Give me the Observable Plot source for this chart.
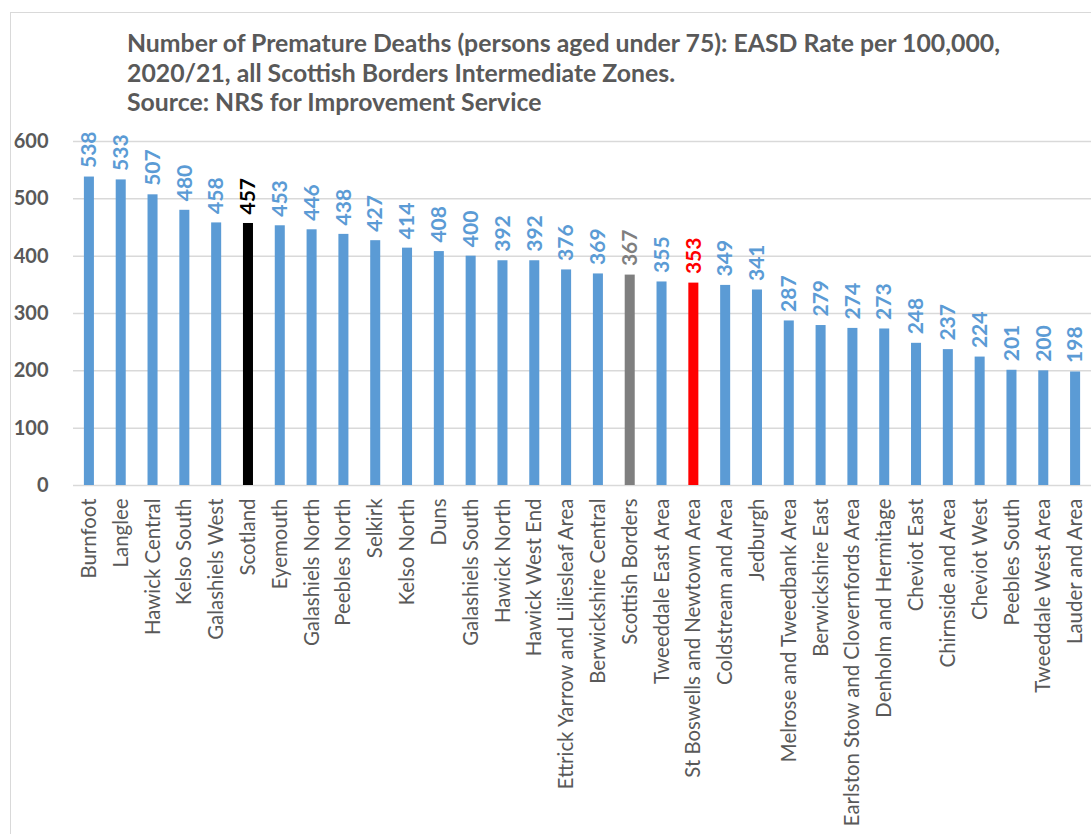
<!DOCTYPE html>
<html><head><meta charset="utf-8">
<script src="https://cdn.jsdelivr.net/npm/d3@7"></script>
<script src="https://cdn.jsdelivr.net/npm/@observablehq/plot@0.6"></script>
<style>
html,body{margin:0;padding:0;background:#fff;}
body{width:1091px;height:834px;overflow:hidden;position:relative;font-family:Lato,"Open Sans",sans-serif;}
#frame{position:absolute;left:10px;top:12px;width:1200px;height:1000px;border:1px solid #d9d9d9;box-sizing:border-box;}
#title{position:absolute;left:127px;top:28px;font-weight:bold;font-size:24.8px;line-height:29.5px;color:#595959;white-space:nowrap;}
#chart{position:absolute;left:0;top:120px;}
</style></head>
<body>
<div id="frame"></div>
<div id="title">Number of Premature Deaths (persons aged under 75): EASD Rate per 100,000,<br>2020/21, all Scottish Borders Intermediate Zones.<br>Source: NRS for Improvement Service</div>
<div id="chart"></div>
<script>
const areas = ["Burnfoot","Langlee","Hawick Central","Kelso South","Galashiels West","Scotland","Eyemouth","Galashiels North","Peebles North","Selkirk","Kelso North","Duns","Galashiels South","Hawick North","Hawick West End","Ettrick Yarrow and Liliesleaf Area","Berwickshire Central","Scottish Borders","Tweeddale East Area","St Boswells and Newtown Area","Coldstream and Area","Jedburgh","Melrose and Tweedbank Area","Berwickshire East","Earlston Stow and Clovernfords Area","Denholm and Hermitage","Cheviot East","Chirnside and Area","Cheviot West","Peebles South","Tweeddale West Area","Lauder and Area"];
const rates = [538,533,507,480,458,457,453,446,438,427,414,408,400,392,392,376,369,367,355,353,349,341,287,279,274,273,248,237,224,201,200,198];
const yTicks = [0,100,200,300,400,500,600];

const highlight = {"Scotland":"#000000","Scottish Borders":"#7f7f7f","St Boswells and Newtown Area":"#ff0000"};
const baseColor = "#5b9bd5";
const data = areas.map((a,i)=>({area:a, value:rates[i]}));
const colorOf = d => highlight[d.area] || baseColor;

const chart = Plot.plot({
  width:1091, height:714,
  marginLeft:73, marginRight:0, marginTop:21, marginBottom:349,
  style:{fontFamily:"Lato, 'Open Sans', sans-serif", background:"transparent", color:"#595959"},
  x:{domain:areas, paddingInner:0.685, paddingOuter:0.3425, round:false, label:null},
  y:{domain:[0,600], label:null},
  color:{type:"identity"},
  marks:[
    Plot.gridY(yTicks,{stroke:"#d9d9d9", strokeOpacity:1, strokeWidth:1.5}),
    Plot.barY(data,{x:"area", y:"value", fill:colorOf}),
    Plot.text(data,{x:"area", y:"value", text:d=>String(d.value), rotate:-90, textAnchor:"start", lineAnchor:"middle", dy:-9, fill:colorOf, fontSize:21, fontWeight:"bold"}),
    Plot.axisX({tickRotate:-90, tickSize:0, tickPadding:13, fontSize:20.4, label:null, fill:"#595959"}),
    Plot.axisY({ticks:yTicks, tickSize:0, tickPadding:25, fontSize:20, fontWeight:"bold", label:null, fill:"#595959"})
  ]
});
document.getElementById("chart").appendChild(chart);
</script>
</body></html>
